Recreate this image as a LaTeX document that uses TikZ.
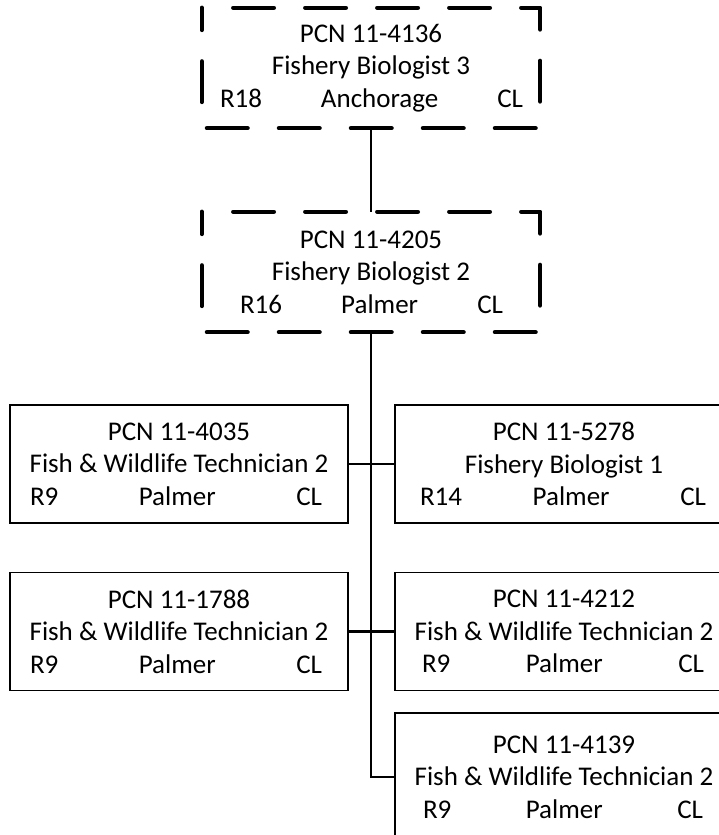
\documentclass[tikz,border=0pt]{standalone}
\usepackage{fontspec}
\setmainfont{Carlito}
\newcommand{\lastrow}[5]{\makebox[\hsize]{\hspace*{#1pt}#2\hfill #3\hfill #4\hspace*{#5pt}}}
\tikzset{
  posbox/.style={inner sep=0pt, text width=338pt, minimum height=118pt, align=center,
    font=\fontsize{27}{32.5}\selectfont,
    execute at begin node={\spaceskip=\fontdimen2\font\xspaceskip=\fontdimen2\font\relax}},
  solidbox/.style={posbox, draw, line width=1.4pt},
  dashbox/.style={line width=4.5pt, line cap=round, line join=round, dash pattern=on 40.5pt off 31.5pt, dash phase=40.5pt},
  conn/.style={line width=2.2pt},
  thinconn/.style={line width=1.3pt}
}
\begin{document}
\begin{tikzpicture}[x=1pt,y=-1pt]
\useasboundingbox (0,0) rectangle (719,835);
% top dashed boxes
\node[posbox, minimum height=120pt] (a) at (371,68) {PCN 11-4136\\Fishery Biologist 3\\\lastrow{18}{R18}{Anchorage}{CL}{17}};
\node[posbox, minimum height=120pt] (b) at (371,272) {PCN 11-4205\\Fishery Biologist 2\\\lastrow{38}{R16}{Palmer}{CL}{37}};
\draw[dashbox] (a.north west) -- (a.north east) -- (a.south east) -- (a.south west) -- cycle;
\draw[dashbox] (b.north west) -- (b.north east) -- (b.south east) -- (b.south west) -- cycle;
% subordinate boxes
\node[solidbox] (l1) at (179,464) {PCN 11-4035\\Fish \& Wildlife Technician 2\\\lastrow{20}{R9}{Palmer}{CL}{26}};
\node[solidbox] (r1) at (564,464) {PCN 11-5278\\Fishery Biologist 1\\\lastrow{25}{R14}{Palmer}{CL}{27}};
\node[solidbox] (l2) at (179,631.5) {PCN 11-1788\\Fish \& Wildlife Technician 2\\\lastrow{20}{R9}{Palmer}{CL}{26}};
\node[solidbox] (r2) at (564,631.5) {PCN 11-4212\\Fish \& Wildlife Technician 2\\\lastrow{27}{R9}{Palmer}{CL}{29}};
\node[solidbox, minimum height=128pt] (r3) at (564,777) {PCN 11-4139\\Fish \& Wildlife Technician 2\\\lastrow{28}{R9}{Palmer}{CL}{30}};
% connectors
\draw[thinconn] (a.south) -- (b.north);
\draw[conn] (b.south) |- (r3.west);
\draw[conn] (l1.east) -- (r1.west);
\draw[conn] (l2.east) -- (r2.west);
\end{tikzpicture}
\end{document}
